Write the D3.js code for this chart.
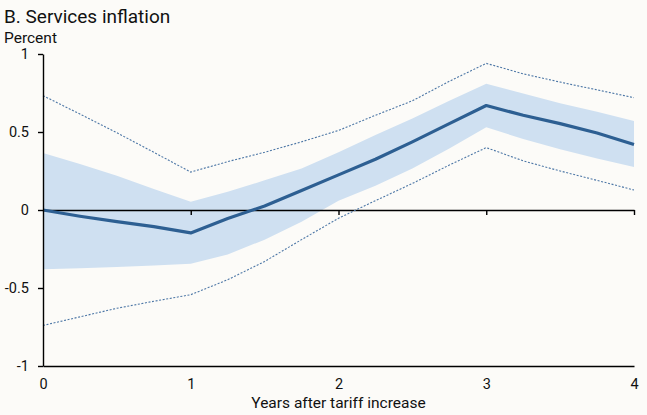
<!DOCTYPE html>
<html>
<head>
<meta charset="utf-8">
<script src="https://cdn.jsdelivr.net/npm/d3@7"></script>
<style>
  body { margin: 0; background: #fcfbf8; }
  svg { display: block; font-family: Roboto, sans-serif; }
</style>
</head>
<body>
<div id="chart"></div>
<script>
// quarters after the tariff increase
var years = [0, 0.25, 0.5, 0.75, 1, 1.25, 1.5, 1.75, 2, 2.25, 2.5, 2.75, 3, 3.25, 3.5, 3.75, 4];

// point estimate
var estimate = [0, -0.04, -0.075, -0.107, -0.147, -0.055, 0.026, 0.125, 0.225, 0.325, 0.437, 0.554, 0.67, 0.607, 0.554, 0.494, 0.42];

// inner (shaded) band
var bandUpper = [0.365, 0.295, 0.22, 0.135, 0.053, 0.117, 0.19, 0.266, 0.37, 0.48, 0.586, 0.70, 0.81, 0.746, 0.685, 0.63, 0.57];
var bandLower = [-0.38, -0.373, -0.365, -0.356, -0.345, -0.285, -0.19, -0.075, 0.06, 0.155, 0.266, 0.394, 0.53, 0.455, 0.39, 0.33, 0.275];

// outer (dotted) band
var outerUpper = [0.733, 0.615, 0.495, 0.37, 0.243, 0.31, 0.37, 0.437, 0.51, 0.607, 0.70, 0.825, 0.94, 0.873, 0.82, 0.77, 0.72];
var outerLower = [-0.74, -0.685, -0.63, -0.585, -0.543, -0.447, -0.33, -0.19, -0.053, 0.06, 0.17, 0.288, 0.40, 0.315, 0.25, 0.19, 0.128];

var yTicks = [-1, -0.5, 0, 0.5, 1];
var xTicks = [0, 1, 2, 3, 4];

var W = 647, H = 415;
var margin = {top: 54, right: 13, bottom: 49, left: 43},
    width = W - margin.left - margin.right,
    height = H - margin.top - margin.bottom;

var svg = d3.select("#chart")
  .append("svg")
    .attr("width", W)
    .attr("height", H);

svg.append("rect").attr("width", W).attr("height", H).attr("fill", "#fcfbf8");

// titles
svg.append("text")
  .attr("x", 4).attr("y", 23)
  .attr("font-size", 19).attr("fill", "#111")
  .text("B. Services inflation");
svg.append("text")
  .attr("x", 4).attr("y", 43)
  .attr("font-size", 15.5).attr("fill", "#111")
  .text("Percent");

var g = svg.append("g")
  .attr("transform", "translate(" + margin.left + "," + margin.top + ")");

var x = d3.scaleLinear().domain([0, 4]).range([0, width]);
var y = d3.scaleLinear().domain([-1, 1]).range([height, 0]);

var rows = years.map(function(t, i) {
  return {t: t, est: estimate[i], bu: bandUpper[i], bl: bandLower[i], ou: outerUpper[i], ol: outerLower[i]};
});

// shaded band
g.append("path")
  .datum(rows)
  .attr("fill", "#cfe0f1")
  .attr("d", d3.area()
    .x(function(d) { return x(d.t); })
    .y0(function(d) { return y(d.bl); })
    .y1(function(d) { return y(d.bu); }));

// zero line with ticks pointing down
g.append("g")
  .attr("transform", "translate(0," + y(0) + ")")
  .call(d3.axisBottom(x).tickValues(xTicks).tickSize(5).tickSizeOuter(0).tickFormat(""))
  .call(function(s) {
    s.select(".domain").attr("stroke", "#000").attr("stroke-width", 1.4);
    s.selectAll(".tick line").attr("stroke", "#000").attr("stroke-width", 1.4);
    s.selectAll(".tick").filter(function(d) { return d === 0; }).remove();
  });

// dotted outer lines
[ "ou", "ol" ].forEach(function(k) {
  g.append("path")
    .datum(rows)
    .attr("fill", "none")
    .attr("stroke", "#4d77a6")
    .attr("stroke-width", 1.1)
    .attr("stroke-dasharray", "2,1.6")
    .attr("d", d3.line()
      .x(function(d) { return x(d.t); })
      .y(function(d) { return y(d[k]); }));
});

// estimate line
g.append("path")
  .datum(rows)
  .attr("fill", "none")
  .attr("stroke", "#2d5f92")
  .attr("stroke-width", 3.2)
  .attr("stroke-linejoin", "round")
  .attr("d", d3.line()
    .x(function(d) { return x(d.t); })
    .y(function(d) { return y(d.est); }));

// y axis
g.append("g")
  .call(d3.axisLeft(y).tickValues(yTicks).tickSize(5).tickSizeOuter(0)
    .tickFormat(function(d) { return String(d); }))
  .call(function(s) {
    s.select(".domain").attr("stroke", "#000").attr("stroke-width", 1.4);
    s.selectAll(".tick line").attr("stroke", "#000").attr("stroke-width", 1.4);
    s.selectAll(".tick text").attr("font-size", 14.5).attr("fill", "#111")
      .attr("font-family", "Roboto, sans-serif").attr("x", -14);
  });

// bottom axis (labels only)
g.append("g")
  .attr("transform", "translate(0," + height + ")")
  .call(d3.axisBottom(x).tickValues(xTicks).tickSize(0).tickSizeOuter(0).tickFormat(d3.format("d")))
  .call(function(s) {
    s.select(".domain").attr("stroke", "#000").attr("stroke-width", 1.4);
    s.selectAll(".tick text").attr("font-size", 14.5).attr("fill", "#111")
      .attr("font-family", "Roboto, sans-serif").attr("y", 13);
  });

svg.append("text")
  .attr("x", margin.left + width / 2)
  .attr("y", 408)
  .attr("text-anchor", "middle")
  .attr("font-size", 15.5).attr("fill", "#111")
  .text("Years after tariff increase");
</script>
</body>
</html>
